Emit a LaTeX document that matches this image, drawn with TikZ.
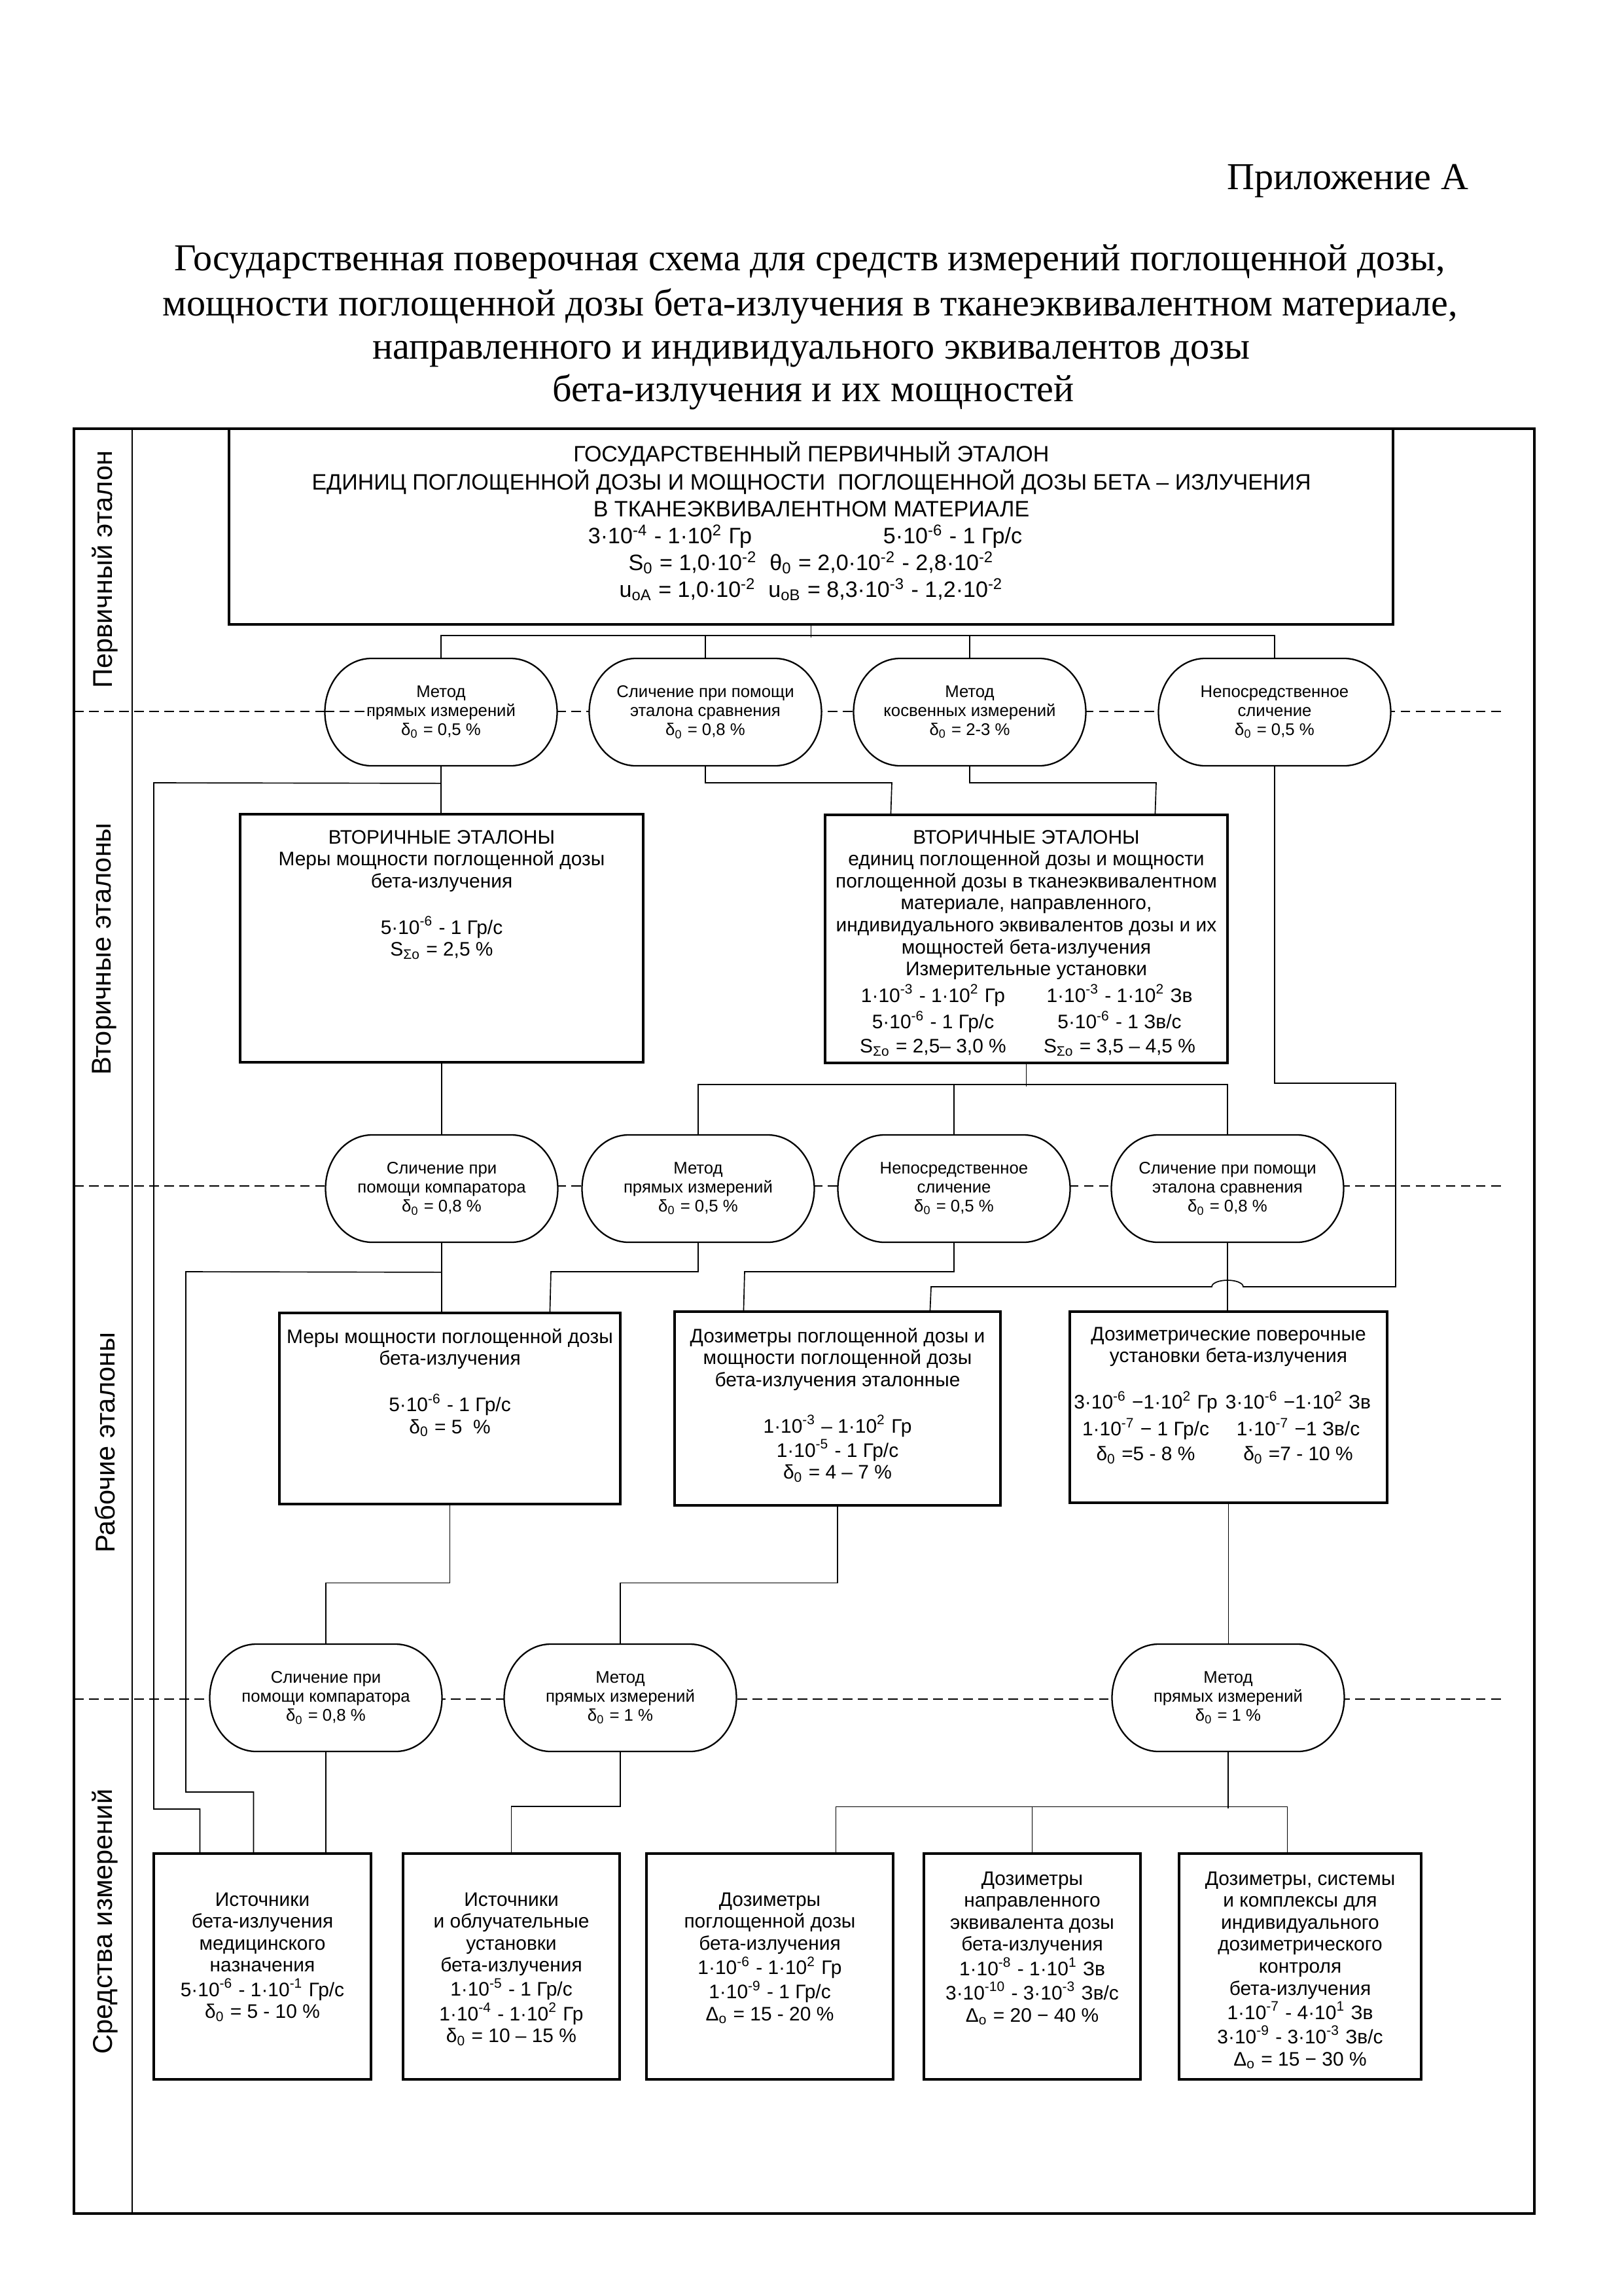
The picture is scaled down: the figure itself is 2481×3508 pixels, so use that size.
\documentclass[tikz,border=0pt]{standalone}
\usepackage{fontspec}
\setmainfont{Liberation Serif}
\newfontfamily\arialf{Liberation Sans}
\usetikzlibrary{calc}
\newlength\px
\setlength\px{0.08464mm}
\newcommand\fprim{\arialf\fontsize{8.2}{9.9}\selectfont}
\newcommand\fbx{\arialf\fontsize{7.2}{8.1}\selectfont}
\newcommand\fnd{\arialf\fontsize{6.2}{7}\selectfont}
\newcommand\flab{\arialf\fontsize{10}{12}\selectfont}
\newcommand\ftitle{\fontsize{14}{16}\selectfont}
\newcommand\xsup[1]{\textsuperscript{#1}}
\newcommand\xsub[1]{\textsubscript{#1}}
\newcommand\tb[1]{\begin{tabular}[t]{@{}c@{}}#1\end{tabular}}
\newcommand\pillshape[1]{\draw[pillline] #1 ++(-106.5,-82) -- ++(213,0) arc[start angle=-90,end angle=90,x radius=71,y radius=82] -- ++(-213,0) arc[start angle=90,end angle=270,x radius=71,y radius=82] -- cycle;}
\newcommand\pillnode[3]{\pillshape{#2}\node[pill] (#1) at #2 {#3};}
\newcommand\boxat[5]{\node[boxst, minimum width=#4*\px, minimum height=#5*\px] (#1) at (#2,#3) {};}
\begin{document}
\begin{tikzpicture}[x=0.08464mm,y=-0.08464mm,
 outerframe/.style={line width=1.1pt},
 conn/.style={line width=0.4pt},
 dashln/.style={line width=0.5pt, dash pattern=on 1.25mm off 0.7mm},
 pillline/.style={line width=0.55pt, fill=white},
 pill/.style={inner sep=0, minimum width=355*\px, minimum height=164*\px, align=center, font=\fnd},
 boxst/.style={draw, line width=0.75pt, inner sep=0},
 txt/.style={inner sep=0, anchor=base, font=\fbx},
 lab/.style={inner sep=0, rotate=90, font=\flab},
 ttl/.style={inner sep=0, anchor=base, font=\ftitle}]
\useasboundingbox (0,0) rectangle (2481,3508);

% ---------- title ----------
\node[ttl, anchor=base east] (app) at (2245,289) {Приложение А};
\node[ttl] (t1) at (1238,413) {Государственная поверочная схема для средств измерений поглощенной дозы,};
\node[ttl] (t2) at (1238,482) {мощности поглощенной дозы бета-излучения в тканеэквивалентном материале,};
\node[ttl] (t3) at (1240,548) {направленного и индивидуального эквивалентов дозы};
\node[ttl] (t4) at (1243,613) {бета-излучения и их мощностей};

% ---------- frame, separator, level lines ----------
\draw[outerframe] (113,655) rectangle (2345,3382);
\draw[conn] (202,655) -- (202,3382);
\draw[dashln] (113,1087) -- (2294,1087);
\draw[dashln] (113,1812) -- (2294,1812);
\draw[dashln] (113,2596) -- (2294,2596);

% ---------- level labels ----------
\node[lab] (L1) at (160,870) {Первичный эталон};
\node[lab] (L2) at (160,1450) {Вторичные эталоны};
\node[lab] (L3) at (160,2204) {Рабочие эталоны};
\node[lab] (L4) at (160,2936) {Средства измерений};

% ---------- primary standard ----------
\node[boxst, line width=0.9pt, minimum width=1779*\px, minimum height=299*\px] (p) at (1239.5,804.5) {};
\node[txt, font=\fprim] (pt) at (1240,705) {\tb{ГОСУДАРСТВЕННЫЙ ПЕРВИЧНЫЙ ЭТАЛОН\\
ЕДИНИЦ ПОГЛОЩЕННОЙ ДОЗЫ И МОЩНОСТИ\ \ ПОГЛОЩЕННОЙ ДОЗЫ БЕТА – ИЗЛУЧЕНИЯ\\
В ТКАНЕЭКВИВАЛЕНТНОМ МАТЕРИАЛЕ\\
\makebox[432\px]{3·10\xsup{-4} - 1·10\xsup{2} Гр}\makebox[432\px]{5·10\xsup{-6} - 1 Гр/с}\\
S\xsub{0} = 1,0·10\xsup{-2}\ \ θ\xsub{0} = 2,0·10\xsup{-2} - 2,8·10\xsup{-2}\\
u\xsub{oA} = 1,0·10\xsup{-2}\ \ u\xsub{oB} = 8,3·10\xsup{-3} - 1,2·10\xsup{-2}}};

% ---------- method nodes, row 1 ----------
\pillnode{n11}{(674,1088)}{Метод\\прямых измерений\\δ\xsub{0} = 0,5 \%}
\pillnode{n12}{(1078,1088)}{Сличение при помощи\\эталона сравнения\\δ\xsub{0} = 0,8 \%}
\pillnode{n13}{(1482,1088)}{Метод\\косвенных измерений\\δ\xsub{0} = 2-3 \%}
\pillnode{n14}{(1948,1088)}{Непосредственное\\сличение\\δ\xsub{0} = 0,5 \%}
\draw[dashln] (496,1087) -- (567,1087);

% ---------- secondary standards ----------
\boxat{s1}{675}{1433.5}{616}{379}
\boxat{s2}{1568.5}{1434.5}{615}{379}
\node[txt] (s1t) at (675,1289) {\tb{ВТОРИЧНЫЕ ЭТАЛОНЫ\\Меры мощности поглощенной дозы\\бета-излучения\\ \\5·10\xsup{-6} - 1 Гр/с\\S\xsub{Σo} = 2,5 \%}};
\node[txt] (s2t) at (1568.5,1289) {\tb{ВТОРИЧНЫЕ ЭТАЛОНЫ\\единиц поглощенной дозы и мощности\\поглощенной дозы в тканеэквивалентном\\материале, направленного,\\индивидуального эквивалентов дозы и их\\мощностей бета-излучения\\Измерительные установки\\[0.8pt]
\makebox[285\px]{1·10\xsup{-3} - 1·10\xsup{2} Гр}\makebox[285\px]{1·10\xsup{-3} - 1·10\xsup{2} Зв}\\[0.8pt]
\makebox[285\px]{5·10\xsup{-6} - 1 Гр/с}\makebox[285\px]{5·10\xsup{-6} - 1 Зв/с}\\[0.8pt]
\makebox[285\px]{S\xsub{Σo} = 2,5– 3,0 \%}\makebox[285\px]{S\xsub{Σo} = 3,5 – 4,5 \%}}};

% ---------- method nodes, row 2 ----------
\pillnode{n21}{(675,1816)}{Сличение при\\помощи компаратора\\δ\xsub{0} = 0,8 \%}
\pillnode{n22}{(1067,1816)}{Метод\\прямых измерений\\δ\xsub{0} = 0,5 \%}
\pillnode{n23}{(1458,1816)}{Непосредственное\\сличение\\δ\xsub{0} = 0,5 \%}
\pillnode{n24}{(1876,1816)}{Сличение при помощи\\эталона сравнения\\δ\xsub{0} = 0,8 \%}

% ---------- working standards ----------
\boxat{w1}{687.5}{2152}{521}{292}
\boxat{w2}{1280}{2152}{498}{296}
\boxat{w3}{1877.5}{2150}{485}{292}
\node[txt] (w1t) at (687.5,2052) {\tb{Меры мощности поглощенной дозы\\бета-излучения\\ \\5·10\xsup{-6} - 1 Гр/с\\δ\xsub{0} = 5\ \ \%}};
\node[txt] (w2t) at (1280,2051) {\tb{Дозиметры поглощенной дозы и\\мощности поглощенной дозы\\бета-излучения эталонные\\ \\1·10\xsup{-3} – 1·10\xsup{2} Гр\\1·10\xsup{-5} - 1 Гр/с\\δ\xsub{0} = 4 – 7 \%}};
\node[txt] (w3t) at (1877.5,2048) {\tb{Дозиметрические поверочные\\установки бета-излучения\\ \\
\makebox[233\px]{3·10\xsup{-6} −1·10\xsup{2} Гр}\makebox[233\px]{3·10\xsup{-6} −1·10\xsup{2} Зв}\hspace*{20\px}\\[1pt]
\makebox[233\px]{1·10\xsup{-7} − 1 Гр/с}\makebox[233\px]{1·10\xsup{-7} −1 Зв/с}\hspace*{20\px}\\[1pt]
\makebox[233\px]{δ\xsub{0} =5 - 8 \%}\makebox[233\px]{δ\xsub{0} =7 - 10 \%}\hspace*{20\px}}};

% ---------- method nodes, row 3 ----------
\pillnode{n31}{(498,2594)}{Сличение при\\помощи компаратора\\δ\xsub{0} = 0,8 \%}
\pillnode{n32}{(948,2594)}{Метод\\прямых измерений\\δ\xsub{0} = 1 \%}
\pillnode{n33}{(1877,2594)}{Метод\\прямых измерений\\δ\xsub{0} = 1 \%}

% ---------- measuring instruments ----------
\boxat{b1}{401}{3004.5}{332}{345}
\boxat{b2}{781.5}{3004.5}{331}{345}
\boxat{b3}{1176.5}{3004.5}{377}{345}
\boxat{b4}{1577.5}{3004.5}{331}{345}
\boxat{b5}{1987}{3004.5}{370}{345}
\node[txt] (b1t) at (401,2912) {\tb{Источники\\бета-излучения\\медицинского\\назначения\\5·10\xsup{-6} - 1·10\xsup{-1} Гр/с\\δ\xsub{0} = 5 - 10 \%}};
\node[txt] (b2t) at (781.5,2912) {\tb{Источники\\и облучательные\\установки\\бета-излучения\\1·10\xsup{-5} - 1 Гр/с\\1·10\xsup{-4} - 1·10\xsup{2} Гр\\δ\xsub{0} = 10 – 15 \%}};
\node[txt] (b3t) at (1176.5,2912) {\tb{Дозиметры\\поглощенной дозы\\бета-излучения\\1·10\xsup{-6} - 1·10\xsup{2} Гр\\1·10\xsup{-9} - 1 Гр/с\\Δ\xsub{o} = 15 - 20 \%}};
\node[txt] (b4t) at (1577.5,2880) {\tb{Дозиметры\\направленного\\эквивалента дозы\\бета-излучения\\1·10\xsup{-8} - 1·10\xsup{1} Зв\\3·10\xsup{-10} - 3·10\xsup{-3} Зв/с\\Δ\xsub{o} = 20 − 40 \%}};
\node[txt] (b5t) at (1987,2880) {\tb{Дозиметры, системы\\и комплексы для\\индивидуального\\дозиметрического\\контроля\\бета-излучения\\1·10\xsup{-7} - 4·10\xsup{1} Зв\\3·10\xsup{-9} - 3·10\xsup{-3} Зв/с\\Δ\xsub{o} = 15 − 30 \%}};

% ---------- connectors ----------
% primary -> row 1
\draw[conn] (p.south) -- ++(0,18);
\draw[conn] (n11.north) -- ++(0,-34) -| (n14.north);
\draw[conn] (n12.north) -- ++(0,-34);
\draw[conn] (n13.north) -- ++(0,-34);
% row 1 -> secondary
\draw[conn] (n11.south) -- (n11.south |- s1.north);
\draw[conn] (n11.south) ++(0,26) -- (235,1196) -- (235,2764) -| ($(b1.north west)+(72,0)$);
\draw[conn] (n12.south) |- (1363,1196) -- ($(s2.north west)+(102,0)$);
\draw[conn] (n13.south) |- (1767,1196) -- ($(s2.north west)+(506,0)$);
\draw[conn] (n14.south) |- (2133,1655) -- (2133,1966) -- (1900,1966)
   arc[start angle=0,end angle=-180,x radius=24,y radius=10] -- (1423,1966) -- ($(w2.north west)+(392,0)$);
% secondary -> row 2
\draw[conn] (s1.south) -- (n21.north);
\draw[conn] (s2.south) -- ++(0,34);
\draw[conn] (n22.north) -- ++(0,-76) -| (n24.north);
\draw[conn] (n23.north) -- ++(0,-76);
% row 2 -> working
\draw[conn] (n21.south) -- (n21.south |- w1.north);
\draw[conn] (n21.south) ++(0,45) -- (284,1943) -- (284,2738) -| ($(b1.north west)+(154,0)$);
\draw[conn] (n22.south) |- (842,1943) -- ($(w1.north west)+(415,0)$);
\draw[conn] (n23.south) |- (1138,1943) -- ($(w2.north west)+(107,0)$);
\draw[conn] (n24.south) -- (n24.south |- w3.north);
% working -> row 3
\draw[conn] (w1.south) -- ++(0,119) -| (n31.north);
\draw[conn] (w2.south) -- ++(0,117) -| (n32.north);
\draw[conn] (w3.south) -- (w3.south |- n33.north);
% row 3 -> instruments
\draw[conn] (n31.south) -- (n31.south |- b1.north);
\draw[conn] (n32.south) -- ++(0,83) -| (b2.north);
\draw[conn] (n33.south) -- ++(0,86);
\draw[conn] ($(b3.north west)+(291,0)$) -- ++(0,-70) -| ($(b5.north west)+(167,0)$);
\draw[conn] (b4.north) -- ++(0,-70);
\end{tikzpicture}
\end{document}
